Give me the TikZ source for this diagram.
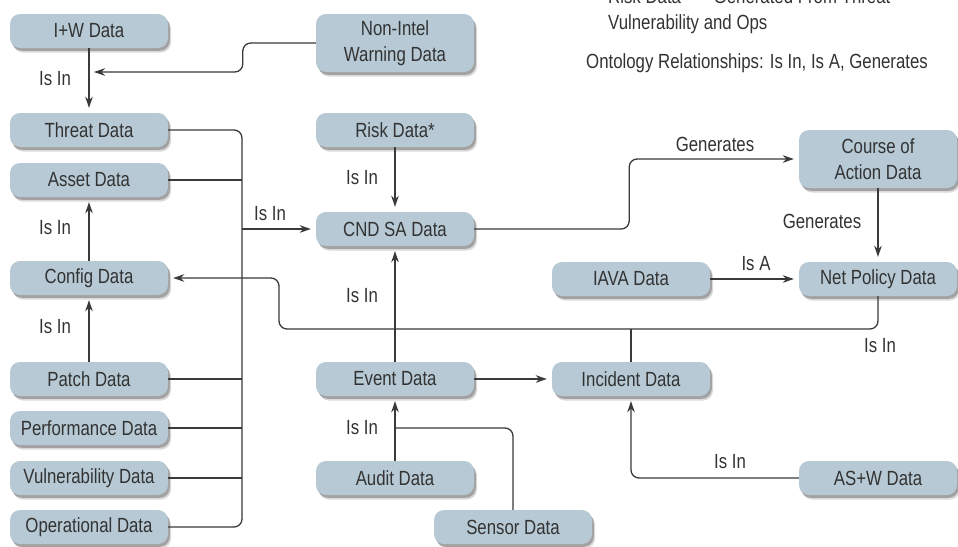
\documentclass[tikz,border=0pt]{standalone}
\usepackage{fontspec}
\setmainfont[FakeStretch=0.82]{Liberation Sans}
\usetikzlibrary{arrows.meta,shadows}
\definecolor{boxfill}{HTML}{B6C9D4}
\definecolor{ink}{HTML}{333333}
\definecolor{wire}{HTML}{3A3A3A}
\tikzset{
  box/.style={rectangle, rounded corners=10pt, fill=boxfill, text=ink,
    minimum width=158pt, minimum height=34pt, inner sep=0pt, align=center,
    font=\fontsize{20.5}{25.5}\selectfont,
    drop shadow={shadow xshift=3pt, shadow yshift=-4.5pt, opacity=0.15, fill=black},
    drop shadow={shadow xshift=1.8pt, shadow yshift=-2.8pt, opacity=0.25, fill=black}},
  tallbox/.style={box, minimum height=58pt},
  lbl/.style={text=ink, inner sep=0pt, font=\fontsize{20.5}{25.5}\selectfont},
  wireline/.style={draw=wire, line width=1.3pt, rounded corners=8pt},
  arr/.style={wireline, -{Stealth[length=11pt,width=7.5pt]}, shorten >=5pt},
}
\begin{document}
\begin{tikzpicture}[x=1pt,y=-1pt]
\clip (0,0) rectangle (958,546);
\fill[white] (0,0) rectangle (958,546);

% left column
\node[box] (iw) at (89,31) {I+W Data};
\node[box] (threat) at (89,130) {Threat Data};
\node[box] (asset) at (89,180) {Asset Data};
\node[box] (config) at (89,278) {Config Data};
\node[box] (patch) at (89,379) {Patch Data};
\node[box] (perf) at (89,428) {Performance Data};
\node[box] (vuln) at (89,478) {Vulnerability Data};
\node[box] (oper) at (89,527) {Operational Data};

% middle column
\node[tallbox] (nonintel) at (395,43) {Non-Intel\\Warning Data};
\node[box] (risk) at (395,130) {Risk Data*};
\node[box] (cnd) at (395,229) {CND SA Data};
\node[box] (event) at (395,379) {Event Data};
\node[box] (audit) at (395,478) {Audit Data};
\node[box] (sensor) at (513,527) {Sensor Data};

% right part
\node[box] (iava) at (631,279) {IAVA Data};
\node[box] (incident) at (631,379) {Incident Data};
\node[tallbox] (coa) at (878,159) {Course of\\Action Data};
\node[box] (netpol) at (878,279) {Net Policy Data};
\node[box] (asw) at (878,478) {AS+W Data};

% notes
\node[lbl, anchor=base west] (note1) at (608,4) {Risk Data* — Generated From Threat};
\node[lbl, anchor=base west] (note2) at (608,29) {Vulnerability and Ops};
\node[lbl, anchor=base west] (note3) at (586,68) {Ontology Relationships: Is In, Is A, Generates};

% warning data into threat data
\coordinate (iwtip) at (89,72);
\draw[arr] (iw) -- (threat);
\draw[arr, shorten >=-1pt] (nonintel.west) -- ++(-73,0) |- ([xshift=6pt]iwtip);
\node[lbl] (l1) at (55,79) {Is In};

% left-hand bus into CND SA data
\coordinate (bus) at (242,229);
\draw[wireline] (threat.east) -| (bus) |- (oper.east);
\draw[wireline] (asset.east) -- (asset.east -| bus);
\draw[wireline] (patch.east) -- (patch.east -| bus);
\draw[wireline] (perf.east) -- (perf.east -| bus);
\draw[wireline] (vuln.east) -- (vuln.east -| bus);
\draw[arr] (bus) -- (cnd.west);
\node[lbl] (l2) at (270,214) {Is In};

% config chain
\draw[arr] (config) -- (asset);
\node[lbl] (l3) at (55,228) {Is In};
\draw[arr] (patch) -- (config);
\node[lbl] (l4) at (55,327) {Is In};

% net policy back to config
\coordinate (npbend) at (279,329);
\draw[arr] (netpol.south) |- (npbend) |- (config.east);
\draw[wireline] (incident.north) -- (incident.north |- npbend);
\node[lbl] (l5) at (880,346) {Is In};

% CND SA inputs
\draw[arr] (risk) -- (cnd);
\node[lbl] (l6) at (362,178) {Is In};
\draw[arr] (event) -- (cnd);
\node[lbl] (l7) at (362,296) {Is In};
\draw[arr] (audit) -- (event);
\node[lbl] (l8) at (362,428) {Is In};
\coordinate (ae) at (395,428);
\draw[wireline] (sensor.north) |- (ae);

% incident data
\draw[arr] (event) -- (incident);
\draw[arr] (asw.west) -| (incident.south);
\node[lbl] (l9) at (730,462) {Is In};

% course of action / net policy
\draw[arr] (cnd.east) -- ++(155,0) |- (coa.west);
\node[lbl] (l10) at (715,144) {Generates};
\draw[arr] (coa) -- (netpol);
\node[lbl] (l11) at (822,221) {Generates};
\draw[arr] (iava) -- (netpol);
\node[lbl] (l12) at (756,264) {Is A};
\end{tikzpicture}
\end{document}
